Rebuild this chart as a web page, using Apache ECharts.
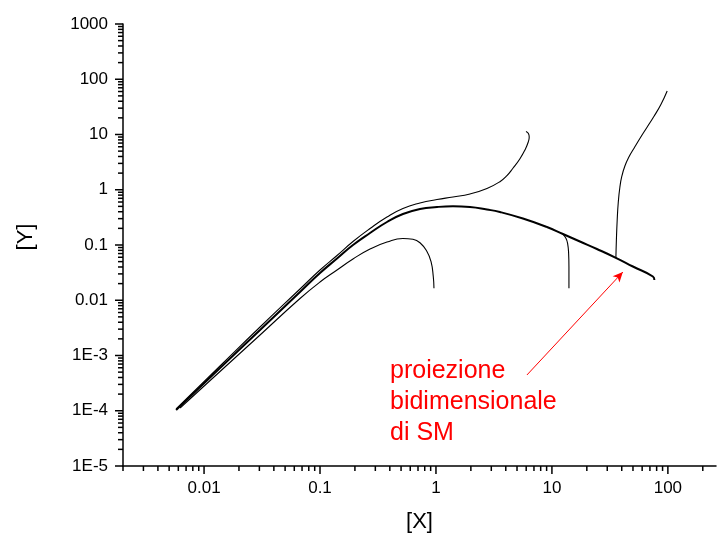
<!DOCTYPE html>
<html><head><meta charset="utf-8">
<script src="https://cdn.jsdelivr.net/npm/echarts@6/dist/echarts.min.js"></script>
<style>html,body{margin:0;padding:0;background:#fff}#c{width:717px;height:537px}</style>
</head><body><div id="c"></div>
<script>
const FONT = '"Liberation Sans", Arial, Helvetica, sans-serif';
const xRange = [0.002, 260];
const yRange = [1e-5, 1000];
const xMajorTicks = [0.01, 0.1, 1, 10, 100];
const xTickLabels = ['0.01', '0.1', '1', '10', '100'];
const yMajorTicks = [1e-5, 1e-4, 1e-3, 0.01, 0.1, 1, 10, 100, 1000];
const yTickLabels = ['1E-5', '1E-4', '1E-3', '0.01', '0.1', '1', '10', '100', '1000'];

// main (thick) curve
const mainCurve = [
  [0.00574, 1.03e-4], [0.01373, 5.94e-4], [0.0304, 2.894e-3], [0.0672, 0.0141],
  [0.1, 0.0311], [0.1402, 0.0570], [0.1925, 0.1], [0.270, 0.1649], [0.378, 0.2608],
  [0.519, 0.364], [0.728, 0.448], [1.020, 0.487], [1.402, 0.5017], [1.964, 0.487],
  [2.753, 0.439], [3.56, 0.3957], [5.623, 0.3017], [9.055, 0.2118], [12.44, 0.1581],
  [17.43, 0.1157], [24.43, 0.0847], [36.33, 0.0574], [49.92, 0.0408], [74.26, 0.0269], [76.49, 0.02325]
];
// upper thin curve
const upperCurve = [
  [0.00574, 1.076e-4], [0.01373, 6.46e-4], [0.0304, 3.28e-3], [0.0672, 0.01598],
  [0.1, 0.03528], [0.1402, 0.0646], [0.1925, 0.1157], [0.270, 0.1989], [0.378, 0.3211],
  [0.519, 0.4576], [0.728, 0.5756], [1.020, 0.666], [1.402, 0.739], [1.964, 0.838],
  [2.753, 1.053], [3.56, 1.40], [4.094, 1.80], [4.611, 2.45], [5.30, 3.65],
  [5.85, 5.243], [6.25, 7.316], [6.37, 9.01], [6.27, 10.42], [5.97, 11.33]
];
// lower thin curve
const lowerCurve = [
  [0.00621, 1.12e-4], [0.01373, 5.133e-4], [0.0304, 2.35e-3], [0.0672, 0.01076],
  [0.1, 0.0214], [0.1402, 0.03528], [0.1925, 0.0558], [0.270, 0.0847], [0.378, 0.1133],
  [0.519, 0.1311], [0.633, 0.1268], [0.728, 0.1100], [0.836, 0.0763], [0.906, 0.0503],
  [0.948, 0.0269], [0.961, 0.01646]
];
// branch dropping near x = 13
const branchDown = [
  [12.44, 0.1581], [13.2, 0.1322], [13.65, 0.1074], [13.93, 0.0708], [14.02, 0.0405], [14.02, 0.01646]
];
// branch rising near x = 36
const branchUp = [
  [35.62, 0.0582], [35.97, 0.1232], [36.55, 0.2835], [37.29, 0.5686], [38.57, 1.121],
  [40.12, 1.774], [42.59, 2.691], [46.11, 3.915], [50.92, 5.58], [57.36, 8.465],
  [65.92, 13.39], [75.72, 21.17], [87.05, 34.91], [98.6, 61.3]
];
const arrowStart = [6.09, 4.44e-4];
const arrowEnd = [40.9, 0.0324];
const annotation = ['proiezione', 'bidimensionale', 'di SM'];

function minorTicks(lo, hi) {
  const out = [];
  for (let e = -6; e <= 4; e++) {
    for (let m = 2; m <= 9; m++) {
      const v = +(m * Math.pow(10, e)).toPrecision(6);
      if (v >= lo * 0.999 && v <= hi * 1.001) out.push(v);
    }
  }
  return out;
}
const MAJ = 8, MIN = 5;
const xTickData = xMajorTicks.map(v => [v, yRange[0], MAJ]).concat(minorTicks(xRange[0], xRange[1]).map(v => [v, yRange[0], MIN]));
const yTickData = yMajorTicks.map(v => [xRange[0], v, MAJ]).concat(minorTicks(yRange[0], yRange[1]).map(v => [xRange[0], v, MIN]));

function isPow10(v) { const l = Math.log10(v); return Math.abs(l - Math.round(l)) < 1e-6; }
function labelFor(ticks, labels) {
  return function (v) {
    if (!isPow10(v)) return '';
    for (let i = 0; i < ticks.length; i++) if (Math.abs(Math.log10(ticks[i]) - Math.log10(v)) < 1e-6) return labels[i];
    return '';
  };
}

const chart = echarts.init(document.getElementById('c'), null, {renderer: 'canvas'});
const lineBase = {type: 'line', showSymbol: false, symbol: 'none', smooth: 0.5, silent: true, animation: false};
chart.setOption({
  animation: false,
  backgroundColor: '#fff',
  grid: {left: 123, right: 1, top: 24, bottom: 71, containLabel: false, outerBoundsMode: 'none'},
  xAxis: {
    type: 'log', logBase: 10, min: xRange[0], max: xRange[1],
    axisLine: {show: true, lineStyle: {color: '#000', width: 1.5}},
    axisTick: {show: false}, minorTick: {show: false}, splitLine: {show: false},
    axisLabel: {formatter: labelFor(xMajorTicks, xTickLabels), color: '#000', fontSize: 17, fontFamily: FONT, margin: 14, hideOverlap: false},
    name: '[X]', nameLocation: 'middle', nameGap: 45,
    nameTextStyle: {fontSize: 22, color: '#000', fontFamily: FONT}
  },
  yAxis: {
    type: 'log', logBase: 10, min: yRange[0], max: yRange[1],
    axisLine: {show: true, lineStyle: {color: '#000', width: 1.5}},
    axisTick: {show: false}, minorTick: {show: false}, splitLine: {show: false},
    axisLabel: {formatter: labelFor(yMajorTicks, yTickLabels), color: '#000', fontSize: 17, fontFamily: FONT, margin: 15, hideOverlap: false},
    name: '[Y]', nameLocation: 'middle', nameGap: 86,
    nameTextStyle: {fontSize: 22, color: '#000', fontFamily: FONT, padding: [0, 0, 0, 16]}
  },
  series: [
    {type: 'custom', coordinateSystem: 'cartesian2d', silent: true, clip: false, data: xTickData, encode: {x: 0, y: 1},
      renderItem: function (params, api) {
        const p = api.coord([api.value(0), api.value(1)]);
        const len = api.value(2);
        return {type: 'line', shape: {x1: p[0], y1: p[1], x2: p[0], y2: p[1] + len}, style: {stroke: '#000', lineWidth: 1.5}};
      }},
    {type: 'custom', coordinateSystem: 'cartesian2d', silent: true, clip: false, data: yTickData, encode: {x: 0, y: 1},
      renderItem: function (params, api) {
        const p = api.coord([api.value(0), api.value(1)]);
        const len = api.value(2);
        return {type: 'line', shape: {x1: p[0], y1: p[1], x2: p[0] - len, y2: p[1]}, style: {stroke: '#000', lineWidth: 1.5}};
      }},
    Object.assign({}, lineBase, {name: 'main', data: mainCurve, lineStyle: {color: '#000', width: 2}}),
    Object.assign({}, lineBase, {name: 'upper', data: upperCurve, lineStyle: {color: '#000', width: 1.1}}),
    Object.assign({}, lineBase, {name: 'lower', data: lowerCurve, lineStyle: {color: '#000', width: 1.1}}),
    Object.assign({}, lineBase, {name: 'branchDown', data: branchDown, lineStyle: {color: '#000', width: 1.1}}),
    Object.assign({}, lineBase, {name: 'branchUp', data: branchUp, lineStyle: {color: '#000', width: 1.1},
      markLine: {silent: true, animation: false, symbol: ['none', 'arrow'], symbolSize: [7, 10],
        label: {show: false}, lineStyle: {color: '#ff0000', width: 1, type: 'solid'},
        data: [[{coord: arrowStart}, {coord: arrowEnd}]]}})
  ],
  graphic: [{type: 'text', left: 390, top: 356, silent: true,
    style: {text: annotation.join('\n'), fill: '#ff0000', font: '25px ' + FONT, lineHeight: 31}}]
});
</script></body></html>
